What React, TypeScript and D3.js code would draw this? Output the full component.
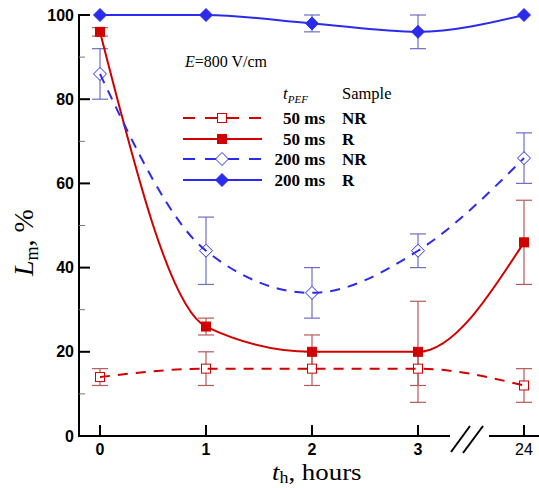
import React from "react";
import * as d3 from "d3";

const hours = ["0", "1", "2", "3", "24"];
const nr50 = [14, 16, 16, 16, 12];
const nr50Err = [2, 4, 4, 4, 4];
const r50 = [96, 26, 20, 20, 46];
const r50Err = [1, 2, 4, 12, 10];
const nr200 = [86, 44, 34, 44, 66];
const nr200Err = [6, 8, 6, 4, 6];
const r200 = [100, 100, 98, 96, 100];
const r200Err = [0, 0, 2, 4, 0];
const yTicks = [0, 20, 40, 60, 80, 100];
const yMinor = [10, 30, 50, 70, 90];

const RED = "#d10000";
const RED_ERR = "#b45a5a";
const BLUE = "#2b2bee";
const BLUE_ERR = "#6e6ec4";

const W = 539;
const H = 488;

export default function App() {
  const x = d3.scaleLinear().domain([0, 4]).range([100, 524]);
  const y = d3.scaleLinear().domain([0, 100]).range([436, 15]);
  const line = d3
    .line<number>()
    .x((_, i) => x(i))
    .y((d) => y(d))
    .curve(d3.curveMonotoneX);

  const series = [
    { vals: nr50, err: nr50Err, color: RED, ecol: RED_ERR, dash: "10,8", marker: "sq", filled: false, t: "50 ms", s: "NR" },
    { vals: r50, err: r50Err, color: RED, ecol: RED_ERR, dash: "", marker: "sq", filled: true, t: "50 ms", s: "R" },
    { vals: nr200, err: nr200Err, color: BLUE, ecol: BLUE_ERR, dash: "10,8", marker: "dm", filled: false, t: "200 ms", s: "NR" },
    { vals: r200, err: r200Err, color: BLUE, ecol: BLUE_ERR, dash: "", marker: "dm", filled: true, t: "200 ms", s: "R" },
  ];

  const marker = (m: string, filled: boolean, color: string, cx: number, cy: number, key?: any) =>
    m === "sq" ? (
      <rect key={key} x={cx - 4.5} y={cy - 4.5} width={9} height={9}
        fill={filled ? color : "#fff"} stroke={color} strokeWidth={1} />
    ) : (
      <path key={key} d={`M${cx},${cy - 6.5}L${cx + 6.5},${cy}L${cx},${cy + 6.5}L${cx - 6.5},${cy}Z`}
        fill={filled ? color : "#fff"} stroke={color} strokeWidth={1} />
    );

  const x0 = 79;
  const serif = "'Liberation Serif', 'Times New Roman', serif";
  const sans = "'Liberation Sans', Arial, sans-serif";
  const legendRows = [118, 139, 159, 180];

  return (
    <svg width={W} height={H} style={{ position: "absolute", left: 0, top: 0 }}>
      <rect width={W} height={H} fill="#fff" />
      {/* error bars */}
      {series.map((s, si) =>
        s.vals.map((v, i) =>
          s.err[i] > 0 ? (
            <g key={`e${si}-${i}`} stroke={s.ecol} strokeWidth={1.2}>
              <line x1={x(i)} x2={x(i)} y1={y(v - s.err[i])} y2={y(v + s.err[i])} />
              <line x1={x(i) - 8} x2={x(i) + 8} y1={y(v - s.err[i])} y2={y(v - s.err[i])} />
              <line x1={x(i) - 8} x2={x(i) + 8} y1={y(v + s.err[i])} y2={y(v + s.err[i])} />
            </g>
          ) : null
        )
      )}
      {/* markers */}
      {series.map((s, si) => s.vals.map((v, i) => marker(s.marker, s.filled, s.color, x(i), y(v), `m${si}-${i}`)))}
      {/* lines */}
      {series.map((s, si) => (
        <path key={`l${si}`} d={line(s.vals) || ""} fill="none" stroke={s.color} strokeWidth={2}
          strokeDasharray={s.dash || undefined} />
      ))}

      {/* axes */}
      <g stroke="#000" strokeWidth={2}>
        <line x1={x0} x2={x0} y1={14} y2={437} />
        <line x1={x0 - 1} x2={450} y1={436} y2={436} />
        <line x1={489} x2={539} y1={436} y2={436} />
        <line x1={451} y1={452} x2={470} y2={426} />
        <line x1={463} y1={453} x2={483} y2={426} />
      </g>
      {yTicks.map((t) => (
        <g key={`yt${t}`}>
          <line x1={x0} x2={x0 + 11} y1={y(t)} y2={y(t)} stroke="#000" strokeWidth={2} />
          <text x={74} y={y(t) + 5.5} textAnchor="end" fontFamily={sans} fontWeight="bold" fontSize={16}>
            {t}
          </text>
        </g>
      ))}
      {yMinor.map((t) => (
        <line key={`ym${t}`} x1={x0} x2={x0 + 6} y1={y(t)} y2={y(t)} stroke="#777" strokeWidth={1} />
      ))}
      {hours.map((h, i) => (
        <g key={`xt${h}`}>
          <line x1={x(i)} x2={x(i)} y1={436} y2={425} stroke="#000" strokeWidth={2} />
          <text x={x(i)} y={455} textAnchor="middle" fontFamily={sans}
            fontWeight={h === "24" ? "normal" : "bold"} fontSize={16}>
            {h}
          </text>
        </g>
      ))}

      {/* axis titles */}
      <text transform="translate(272,480) scale(1.12,1)" fontFamily={serif} fontSize={24}>
        <tspan fontStyle="italic">t</tspan>
        <tspan fontSize={16} dy={3}>h</tspan>
        <tspan dy={-3}>, hours</tspan>
      </text>
      <text transform="translate(33,276) rotate(-90)" fontFamily={serif} fontSize={28}>
        <tspan fontStyle="italic">L</tspan>
        <tspan fontSize={18} dy={5}>m</tspan>
        <tspan dy={-5}>, %</tspan>
      </text>

      {/* annotation */}
      <text x={185} y={67} fontFamily={serif} fontSize={16}>
        <tspan fontStyle="italic">E</tspan>=800 V/cm
      </text>

      {/* legend */}
      <text x={283} y={99} fontFamily={serif} fontSize={17} fontStyle="italic">
        t<tspan fontSize={11} dy={4}>PEF</tspan>
      </text>
      <text x={342} y={99} fontFamily={serif} fontSize={16.5}>
        Sample
      </text>
      {series.map((s, si) => (
        <g key={`lg${si}`}>
          <line x1={183} x2={262} y1={legendRows[si]} y2={legendRows[si]} stroke={s.color} strokeWidth={2}
            strokeDasharray={s.dash ? "12,10" : undefined} />
          {marker(s.marker, s.filled, s.color, 222, legendRows[si])}
          <text x={325} y={legendRows[si] + 6} textAnchor="end" fontFamily={serif} fontWeight="bold" fontSize={17}>
            {s.t}
          </text>
          <text x={342} y={legendRows[si] + 6} fontFamily={serif} fontWeight="bold" fontSize={17}>
            {s.s}
          </text>
        </g>
      ))}
    </svg>
  );
}
